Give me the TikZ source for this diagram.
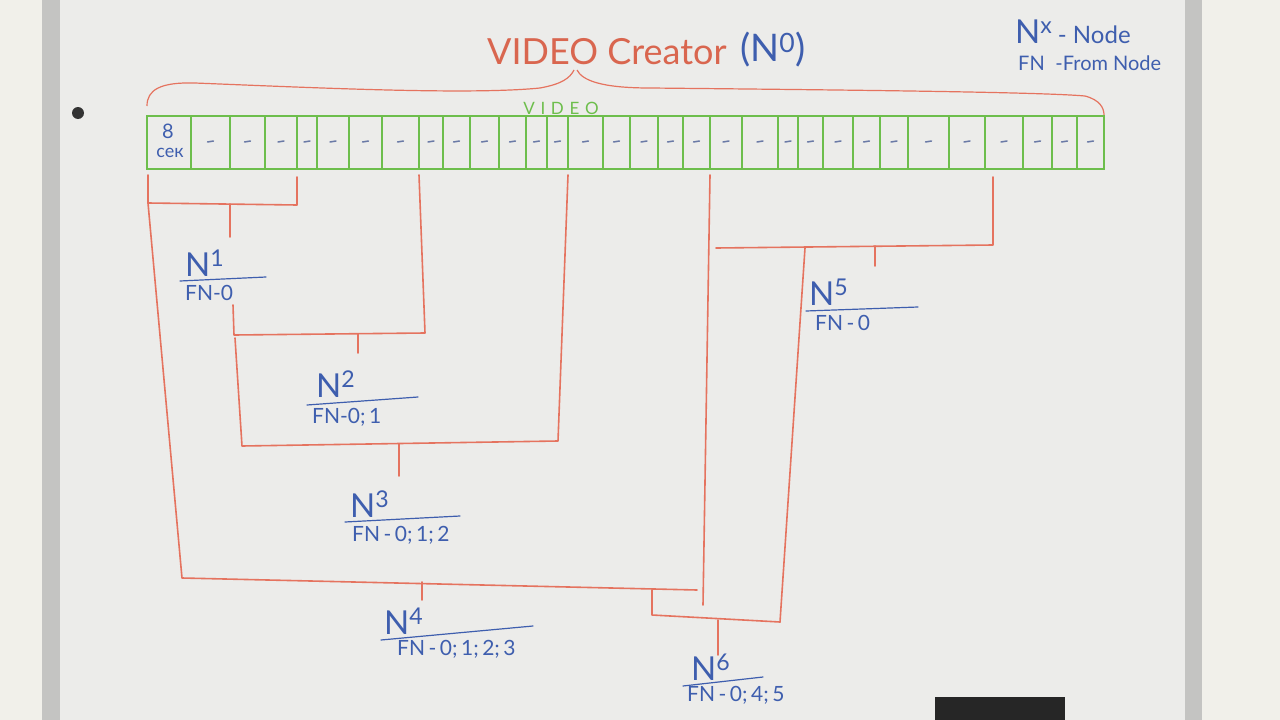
\documentclass[tikz,border=0pt]{standalone}
\usepackage{fontspec}
\setmainfont{Lato}
\definecolor{wall}{HTML}{F1F0EA}
\definecolor{board}{HTML}{ECECEA}
\definecolor{framec}{HTML}{C4C4C2}
\definecolor{redm}{HTML}{E5735F}
\definecolor{greenm}{HTML}{6DBE4C}
\definecolor{bluem}{HTML}{3E5EAE}
\definecolor{titler}{HTML}{D9664F}
\definecolor{dashc}{HTML}{6A7AA6}
\begin{document}
\begin{tikzpicture}[x=1pt,y=-1pt,
  redline/.style={draw=redm,line width=1.6pt,line join=round,line cap=round},
  greenline/.style={draw=greenm,line width=1.6pt},
  blueline/.style={draw=bluem,line width=1.2pt,line cap=round},
  nbig/.style={text=bluem,font=\fontsize{33}{33}\selectfont,inner sep=0pt,anchor=base west},
  fnt/.style={text=bluem,font=\fontsize{21}{21}\selectfont,inner sep=0pt,anchor=north west},
  dashm/.style={draw=dashc,line width=1.5pt,line cap=round}]
\useasboundingbox (0,0) rectangle (1280,720);
% background / board
\fill[wall] (0,0) rectangle (1280,720);
\fill[board] (60,0) rectangle (1185,720);
\fill[framec] (42,0) rectangle (60,720);
\fill[framec] (1185,0) rectangle (1202,720);
\fill[black!80] (78,113) circle (6);
\fill[black!85] (935,697) rectangle (1065,720);
% title
\node[text=titler,font=\fontsize{36}{36}\selectfont,anchor=west,inner sep=0pt] (title) at (487,52) {VIDEO Creator};
\node[text=bluem,font=\fontsize{38}{38}\selectfont,anchor=west,inner sep=0pt] (tn) at (740,50) {(N\textsuperscript{0})};
% legend
\node[text=bluem,inner sep=0pt,anchor=base west,font=\fontsize{33}{33}\selectfont] (lg1) at (1015,43) {N\textsuperscript{x}\,\fontsize{24}{24}\selectfont - Node};
\node[text=bluem,inner sep=0pt,anchor=base west,font=\fontsize{20}{20}\selectfont] (lg2) at (1018,70) {FN\; -From Node};
% brace
\draw[redm,line width=1.2pt] (147,106) .. controls (147,90) and (160,82) .. (195,83)
  .. controls (320,88) and (470,95) .. (540,88) .. controls (562,84) and (570,78) .. (574,70);
\draw[redm,line width=1.2pt] (577,70) .. controls (582,80) and (600,88) .. (650,88)
  .. controls (850,90) and (1040,92) .. (1085,96) .. controls (1100,100) and (1104,108) .. (1104,115);
% strip
\node[text=greenm,font=\fontsize{17}{17}\selectfont,inner sep=0pt] (vid) at (561,108) {V\,\,I\,\,D\,\,E\,\,O};
\draw[greenline] (147,116) rectangle (1104,169);
\foreach \x in {191,230,265,297,317,349,382,419,443,470,499,526,547,568,603,630,658,683,710,742,778,798,823,853,880,908,949,985,1023,1052,1077}
  \draw[greenline] (\x,116) -- (\x,169);
\foreach \a/\b in {191/230,230/265,265/297,297/317,317/349,349/382,382/419,419/443,443/470,470/499,499/526,526/547,547/568,568/603,603/630,630/658,658/683,683/710,710/742,742/778,778/798,798/823,823/853,853/880,880/908,908/949,949/985,985/1023,1023/1052,1052/1077,1077/1104}
  \draw[dashm] ({(\a+\b)/2-3},142) -- ({(\a+\b)/2+3},141);
\node[text=bluem,font=\fontsize{20}{20}\selectfont,inner sep=0pt] (eight) at (168,131) {8};
\node[text=bluem,font=\fontsize{18}{18}\selectfont,inner sep=0pt] (sek) at (170,153) {сек};
% labels
\node[nbig] (n1) at (185,276) {N\textsuperscript{1}};
\node[fnt] (f1) at (185,285) {FN-0};
\draw[blueline] (180,281) -- (266,277);
\node[nbig] (n2) at (316,397) {N\textsuperscript{2}};
\node[fnt] (f2) at (312,408) {FN-0;\,1};
\draw[blueline] (307,405) -- (418,397);
\node[nbig] (n3) at (350,517) {N\textsuperscript{3}};
\node[fnt] (f3) at (352,526) {FN\,-\,0;\,1;\,2};
\draw[blueline] (345,522) -- (460,516);
\node[nbig] (n4) at (384,634) {N\textsuperscript{4}};
\node[fnt] (f4) at (397,640) {FN\,-\,0;\,1;\,2;\,3};
\draw[blueline] (381,640) -- (533,626);
\node[nbig] (n5) at (809,305) {N\textsuperscript{5}};
\node[fnt] (f5) at (815,315) {FN\,-\,0};
\draw[blueline] (806,311) -- (918,307);
\node[nbig] (n6) at (691,680) {N\textsuperscript{6}};
\node[fnt] (f6) at (687,686) {FN\,-\,0;\,4;\,5};
\draw[blueline] (683,686) -- (763,677);
% brackets
% N1
\draw[redline] (148,175) -- (148,203) -- (297,205) -- (297,177);
\draw[redline] (230,204) -- (230,237);
% N4 left
\draw[redline] (148,203) -- (182,578) -- (697,590);
\draw[redline] (422,582) -- (422,600);
% N2
\draw[redline] (233,305) -- (234,335) -- (425,333) -- (419,175);
\draw[redline] (358,334) -- (358,353);
% N3
\draw[redline] (235,338) -- (242,446) -- (558,441) -- (568,175);
\draw[redline] (399,444) -- (399,476);
% video 0 line
\draw[redline] (710,175) -- (703,605);
% N5
\draw[redline] (993,177) -- (993,245) -- (716,248);
\draw[redline] (875,246) -- (875,266);
\draw[redline] (805,248) -- (780,622);
% N6
\draw[redline] (652,590) -- (652,615) -- (780,622);
\draw[redline] (718,620) -- (718,655);
\end{tikzpicture}
\end{document}
